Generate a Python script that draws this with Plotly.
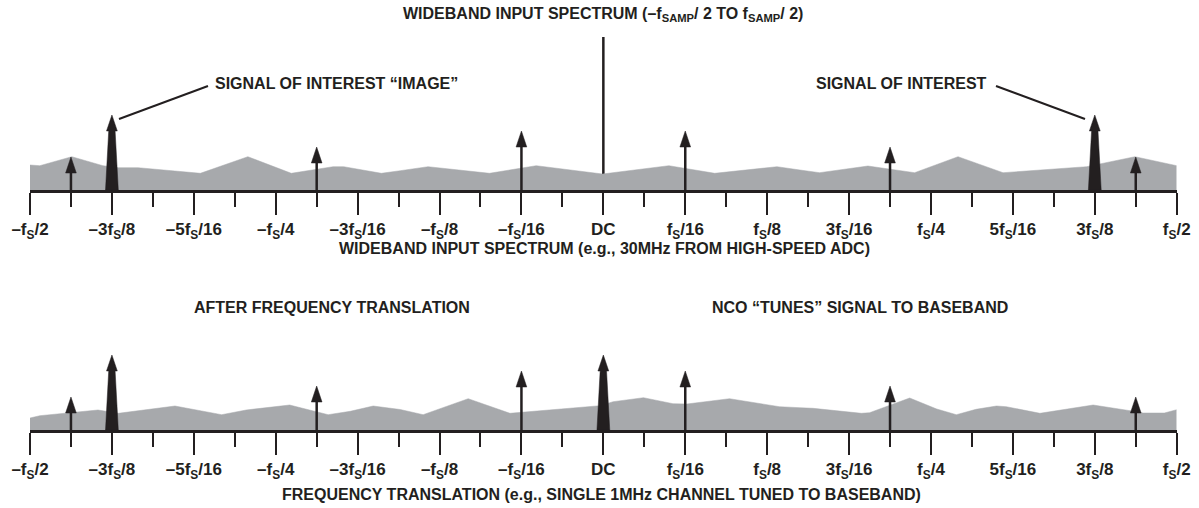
import plotly.graph_objects as go

# ---------------- data ----------------
tick_positions = list(range(15))
tick_labels = ["–f<sub>S</sub>/2", "–3f<sub>S</sub>/8", "–5f<sub>S</sub>/16", "–f<sub>S</sub>/4",
               "–3f<sub>S</sub>/16", "–f<sub>S</sub>/8", "–f<sub>S</sub>/16", "DC",
               "f<sub>S</sub>/16", "f<sub>S</sub>/8", "3f<sub>S</sub>/16", "f<sub>S</sub>/4",
               "5f<sub>S</sub>/16", "3f<sub>S</sub>/8", "f<sub>S</sub>/2"]

# wideband input spectrum: noise floor (position, relative amplitude)
top_noise_x = [0.00, 0.12, 0.51, 0.89, 1.08, 1.32, 2.08, 2.66, 3.19, 3.70, 3.83, 4.29, 4.52,
               4.86, 5.61, 6.18, 6.99, 7.80, 8.36, 9.12, 9.40, 9.64, 10.23, 10.80, 11.33,
               11.88, 12.90, 13.06, 13.49, 14.00]
top_noise_y = [25, 24.3, 33.3, 24.3, 22.3, 22.3, 16.7, 33.3, 16.7, 23.3, 23.3, 16.7, 19.3,
               23.3, 16.7, 24.3, 16, 24.3, 16.7, 23.3, 20, 17.3, 24, 17.3, 33.3,
               17.3, 23.3, 26, 33.3, 24.3]

# after frequency translation: noise floor
bot_noise_x = [0.00, 0.12, 0.83, 1.08, 1.77, 2.34, 2.64, 3.17, 3.64, 3.91, 4.19, 4.52, 4.80,
               5.35, 5.86, 6.96, 7.12, 7.49, 7.85, 8.02, 8.54, 9.15, 9.40, 9.56, 10.15,
               10.25, 10.74, 11.07, 11.31, 11.55, 11.80, 11.92, 12.33, 12.98, 13.43, 13.59,
               13.85, 14.00]
bot_noise_y = [12, 14.3, 20, 16.7, 24, 15.3, 20, 25, 15.3, 18.7, 24, 20.5, 15.3,
               31.3, 16.7, 24.3, 28.3, 32.3, 26.3, 26, 31.3, 23.3, 22.3, 21.7, 16.7,
               17.3, 32, 21, 15.3, 20.7, 24, 23.3, 16.7, 25, 19.3, 17,
               17, 20.3]

# tones (position, amplitude)
top_tone_x = [0.5, 3.5, 6.0, 8.0, 10.5, 13.5]
top_tone_y = [33, 43, 59, 59, 43, 33]
top_signal_x = [1.0, 13.0]
top_signal_y = [75, 75]
dc_x = [7.0]
dc_y = [153]

bot_tone_x = [0.5, 3.5, 6.0, 8.0, 10.5, 13.5]
bot_tone_y = [33, 44, 59, 59, 44, 33]
bot_signal_x = [1.0, 7.0]
bot_signal_y = [75, 75]

# ---------------- style ----------------
W, H = 1199, 508
X0_PX, X1_PX = 30.0, 1176.7
PX = 14.0 / (X1_PX - X0_PX)        # data units per pixel along x
INK = "#231f20"
GRAY = "#a7a9ac"
FONT = "Liberation Sans"
HEAD_W, HEAD_H = 10.7, 16.0
BIG_BASE, BIG_NECK, BIG_HEAD = 6.4, 3.2, 5.4

fig = go.Figure()


def add_panel(xa, ya, noise_x, noise_y, tone_x, tone_y, sig_x, sig_y, dcx=None, dcy=None):
    if dcx:
        for x, y in zip(dcx, dcy):
            fig.add_trace(go.Scatter(x=[x, x], y=[0, y], mode="lines",
                                     line=dict(color=INK, width=2.5),
                                     xaxis=xa, yaxis=ya, hoverinfo="skip"))
    fig.add_trace(go.Scatter(x=noise_x, y=noise_y, mode="lines", fill="tozeroy",
                             fillcolor=GRAY, line=dict(color=GRAY, width=0.5),
                             xaxis=xa, yaxis=ya, hoverinfo="skip"))
    # stems
    sx, sy = [], []
    for x, y in zip(tone_x, tone_y):
        sx += [x, x, None]
        sy += [0, y - HEAD_H + 1, None]
    fig.add_trace(go.Scatter(x=sx, y=sy, mode="lines", line=dict(color=INK, width=2.5),
                             xaxis=xa, yaxis=ya, hoverinfo="skip"))
    # heads
    hx, hy = [], []
    for x, y in zip(tone_x, tone_y):
        hx += [x - HEAD_W / 2 * PX, x + HEAD_W / 2 * PX, x, x - HEAD_W / 2 * PX, None]
        hy += [y - HEAD_H, y - HEAD_H, y, y - HEAD_H, None]
    fig.add_trace(go.Scatter(x=hx, y=hy, mode="lines", fill="toself", fillcolor=INK,
                             line=dict(color=INK, width=0.5),
                             xaxis=xa, yaxis=ya, hoverinfo="skip"))
    # big signal arrows
    bx, by = [], []
    for x, y in zip(sig_x, sig_y):
        bx += [x - BIG_BASE * PX, x - BIG_NECK * PX, x - BIG_HEAD * PX, x,
               x + BIG_HEAD * PX, x + BIG_NECK * PX, x + BIG_BASE * PX, x - BIG_BASE * PX, None]
        by += [0, y - HEAD_H, y - HEAD_H, y, y - HEAD_H, y - HEAD_H, 0, 0, None]
    fig.add_trace(go.Scatter(x=bx, y=by, mode="lines", fill="toself", fillcolor=INK,
                             line=dict(color=INK, width=0.5),
                             xaxis=xa, yaxis=ya, hoverinfo="skip"))


add_panel("x", "y", top_noise_x, top_noise_y, top_tone_x, top_tone_y,
          top_signal_x, top_signal_y, dc_x, dc_y)
add_panel("x2", "y2", bot_noise_x, bot_noise_y, bot_tone_x, bot_tone_y,
          bot_signal_x, bot_signal_y)

xdom = [X0_PX / W, X1_PX / W]
xaxis_common = dict(
    domain=xdom, range=[0, 14], showgrid=False, zeroline=False, automargin=False,
    showline=True, linecolor=INK, linewidth=2.5,
    tickmode="array", tickvals=tick_positions, ticktext=tick_labels,
    ticks="outside", ticklen=22, tickwidth=2, tickcolor=INK,
    tickfont=dict(family=FONT, size=17, color=INK, weight="bold"),
    minor=dict(tickmode="linear", tick0=0, dtick=0.5, ticks="outside",
               ticklen=14, tickwidth=2, tickcolor=INK, showgrid=False),
    fixedrange=True,
)
yaxis_common = dict(visible=False, showgrid=False, zeroline=False, fixedrange=True,
                    automargin=False)

TOP_BASE, TOP_TOP = 190, 30
BOT_BASE, BOT_TOP = 430, 280

fig.update_layout(
    width=W, height=H,
    margin=dict(l=0, r=0, t=0, b=0, pad=0, autoexpand=False),
    paper_bgcolor="white", plot_bgcolor="rgba(0,0,0,0)",
    showlegend=False,
    xaxis=dict(**xaxis_common, anchor="y"),
    yaxis=dict(**yaxis_common, anchor="x",
               domain=[(H - TOP_BASE) / H, (H - TOP_TOP) / H],
               range=[0, TOP_BASE - TOP_TOP]),
    xaxis2=dict(**xaxis_common, anchor="y2"),
    yaxis2=dict(**yaxis_common, anchor="x2",
                domain=[(H - BOT_BASE) / H, (H - BOT_TOP) / H],
                range=[0, BOT_BASE - BOT_TOP]),
)


def pos(px, py):
    return dict(x=px / W, y=(H - py) / H, xref="paper", yref="paper")


txt = dict(family=FONT, size=16, color=INK, weight="bold")
annotations = [
    dict(**pos(603, 15),
         text="WIDEBAND INPUT SPECTRUM (–f<sub>SAMP</sub>/ 2 TO f<sub>SAMP</sub>/ 2)",
         xanchor="center", yanchor="middle"),
    dict(**pos(213, 83), text="SIGNAL OF INTEREST “IMAGE”", xanchor="left", yanchor="middle"),
    dict(**pos(989, 83), text="SIGNAL OF INTEREST", xanchor="right", yanchor="middle"),
    dict(**pos(604, 248), text="WIDEBAND INPUT SPECTRUM (e.g., 30MHz FROM HIGH-SPEED ADC)",
         xanchor="center", yanchor="middle"),
    dict(**pos(332, 307), text="AFTER FREQUENCY TRANSLATION", xanchor="center", yanchor="middle"),
    dict(**pos(860, 307), text="NCO “TUNES” SIGNAL TO BASEBAND", xanchor="center",
         yanchor="middle"),
    dict(**pos(601, 494),
         text="FREQUENCY TRANSLATION (e.g., SINGLE 1MHz CHANNEL TUNED TO BASEBAND)",
         xanchor="center", yanchor="middle"),
]
for a in annotations:
    a.update(showarrow=False, font=txt)
fig.update_layout(annotations=annotations)

# leader lines for the callouts
leaders = [((119, 71), (208, 104)), ((996, 104), (1085, 71))]
for (p0, a0), (p1, a1) in leaders:
    fig.add_shape(type="line", xref="x", yref="y",
                  x0=(p0 - X0_PX) * PX, y0=a0, x1=(p1 - X0_PX) * PX, y1=a1,
                  line=dict(color=INK, width=2))

fig.write_html("out.html", config={"displayModeBar": False},
               post_script="document.body.style.margin='0';document.body.style.overflow='hidden';")
